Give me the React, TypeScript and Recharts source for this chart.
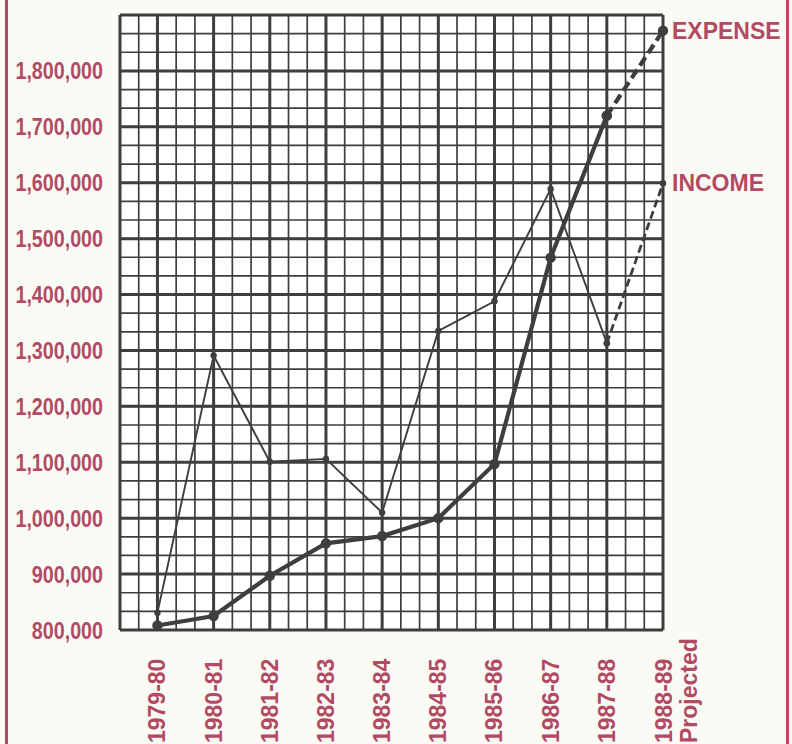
import { LineChart, Line, XAxis, YAxis, CartesianGrid } from "recharts";

const years = [
  "1979-80", "1980-81", "1981-82", "1982-83", "1983-84",
  "1984-85", "1985-86", "1986-87", "1987-88", "1988-89",
];
const expense = [808000, 825000, 897000, 955000, 968000, 1000000, 1097000, 1466000, 1720000, 1872000];
const income = [831000, 1291000, 1101000, 1106000, 1010000, 1335000, 1388000, 1589000, 1313000, 1599000];
const yTicks = [800000, 900000, 1000000, 1100000, 1200000, 1300000, 1400000, 1500000, 1600000, 1700000, 1800000];

const last = years.length - 1;
const data = years.map((name, i) => ({
  x: i,
  name,
  expense: i < last ? expense[i] : null,
  income: i < last ? income[i] : null,
  expenseProj: i >= last - 1 ? expense[i] : null,
  incomeProj: i >= last - 1 ? income[i] : null,
}));

const RED = "#b24a63";
const INK = "#3e3e3e";
const X_MIN = -2 / 3;

// grid: thin line every third of a unit, thick on each unit
const minorX: number[] = [];
for (let k = -2; k <= 27; k++) minorX.push(k / 3);
const majorX = [X_MIN, ...years.map((_, i) => i)];
const minorY: number[] = [];
for (let k = 0; k <= 33; k++) minorY.push(800000 + (k * 100000) / 3);
const majorY = [...yTicks, 1900000];

const YTick = (props: any) => {
  const { y, payload } = props;
  const label = payload.value.toLocaleString("en-US");
  const commas = label.split(",").length - 1;
  const digits = label.length - commas;
  // squeeze to a condensed look
  const len = (digits * 0.456 + commas * 0.228) * 24;
  return (
    <text
      x={103}
      y={y}
      dy={8.5}
      textAnchor="end"
      fill={RED}
      fontSize={24}
      fontWeight="bold"
      fontFamily="'Liberation Sans', Arial, sans-serif"
      textLength={len}
      lengthAdjust="spacingAndGlyphs"
    >
      {label}
    </text>
  );
};

const XTick = (props: any) => {
  const { x, payload } = props;
  const i = payload.value as number;
  const base = 743;
  const style = {
    fill: RED,
    fontSize: 23,
    fontWeight: "bold" as const,
    fontFamily: "'Liberation Sans', Arial, sans-serif",
  };
  if (i === last) {
    return (
      <g>
        <text x={x + 9} y={base} transform={`rotate(-90, ${x + 9}, ${base})`} {...style}>
          {years[i]}
        </text>
        <text x={x + 34} y={base} transform={`rotate(-90, ${x + 34}, ${base})`} {...style}>
          Projected
        </text>
      </g>
    );
  }
  return (
    <text x={x + 8} y={base} transform={`rotate(-90, ${x + 8}, ${base})`} {...style}>
      {years[i]}
    </text>
  );
};

const endLabel = (text: string) => (props: any) => {
  const { x, y, index } = props;
  if (index !== last) return <g />;
  return (
    <text
      x={x + 9}
      y={y + 8}
      fill={RED}
      fontSize={23}
      fontWeight="bold"
      fontFamily="'Liberation Sans', Arial, sans-serif"
    >
      {text}
    </text>
  );
};

export default function App() {
  return (
    <div
      style={{
        position: "absolute",
        left: 0,
        top: 0,
        width: 792,
        height: 744,
        background: "#fbfbf6",
        overflow: "hidden",
      }}
    >
      <div style={{ position: "absolute", left: 5, top: 0, width: 3, height: 744, background: RED }} />
      <div style={{ position: "absolute", left: 786, top: 0, width: 3, height: 744, background: RED }} />
      <LineChart
        width={792}
        height={744}
        data={data}
        margin={{ top: 15, right: 129, bottom: 0, left: 0 }}
      >
        <CartesianGrid
          fill="#ffffff"
          stroke={INK}
          strokeWidth={1.7}
          horizontalValues={minorY}
          verticalValues={minorX}
        />
        <CartesianGrid
          stroke={INK}
          strokeWidth={3}
          horizontalValues={majorY}
          verticalValues={majorX}
        />
        <XAxis
          type="number"
          dataKey="x"
          domain={[X_MIN, last]}
          ticks={years.map((_, i) => i)}
          height={114}
          axisLine={false}
          tickLine={false}
          tick={<XTick />}
          interval={0}
        />
        <YAxis
          type="number"
          domain={[800000, 1900000]}
          ticks={yTicks}
          width={120}
          axisLine={false}
          tickLine={false}
          tick={<YTick />}
          interval={0}
        />
        <Line
          dataKey="income"
          stroke={INK}
          strokeWidth={1.9}
          dot={{ r: 3.2, fill: INK, stroke: INK, strokeWidth: 0 }}
          isAnimationActive={false}
        />
        <Line
          dataKey="incomeProj"
          stroke={INK}
          strokeWidth={2.8}
          strokeDasharray="8 4"
          dot={{ r: 3.2, fill: INK, stroke: INK, strokeWidth: 0 }}
          label={endLabel("INCOME")}
          isAnimationActive={false}
        />
        <Line
          dataKey="expense"
          stroke={INK}
          strokeWidth={4.2}
          dot={{ r: 5.2, fill: INK, stroke: INK, strokeWidth: 0 }}
          isAnimationActive={false}
        />
        <Line
          dataKey="expenseProj"
          stroke={INK}
          strokeWidth={4.2}
          strokeDasharray="10 5"
          dot={{ r: 5.2, fill: INK, stroke: INK, strokeWidth: 0 }}
          label={endLabel("EXPENSE")}
          isAnimationActive={false}
        />
      </LineChart>
    </div>
  );
}
